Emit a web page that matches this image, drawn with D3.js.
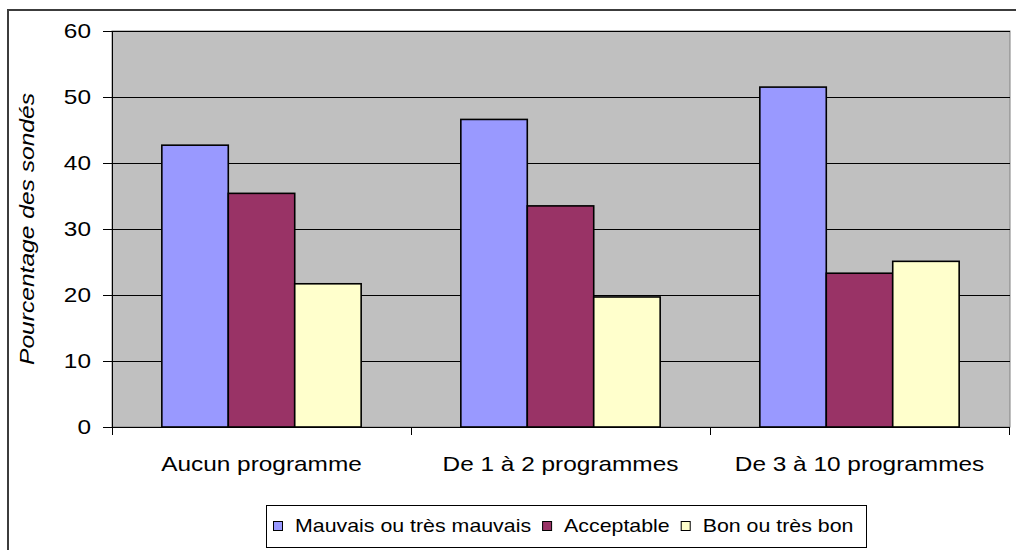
<!DOCTYPE html>
<html>
<head>
<meta charset="utf-8">
<script src="https://cdn.jsdelivr.net/npm/d3@7"></script>
<style>
  body { margin: 0; background: #fff; }
  svg text { font-family: "Liberation Sans", Arial, sans-serif; fill: #000; }
</style>
</head>
<body>
<svg width="1016" height="550"></svg>
<script>
const categories = ["Aucun programme", "De 1 à 2 programmes", "De 3 à 10 programmes"];
const seriesNames = ["Mauvais ou très mauvais", "Acceptable", "Bon ou très bon"];
const mauvais = [42.7, 46.6, 51.5];
const acceptable = [35.4, 33.5, 23.3];
const bon = [21.7, 19.7, 25.1];
const yTicks = [0, 10, 20, 30, 40, 50, 60];
const yTitle = "Pourcentage des sondés";

const seriesValues = [mauvais, acceptable, bon];
const colors = ["#9999FF", "#993366", "#FFFFCC"];

// horizontal stretch of the original picture's glyphs
const SX = 1.22;

const svg = d3.select("svg");
const plot = { left: 112, right: 1010, top: 31, bottom: 427 };

// outer chart frame
svg.append("rect")
  .attr("x", 8).attr("y", 10)
  .attr("width", 1100).attr("height", 700)
  .attr("fill", "#fff")
  .attr("stroke", "#3c3c3c")
  .attr("stroke-width", 2);

const x0 = d3.scaleBand()
  .domain(categories)
  .range([plot.left, plot.right - 1])
  .paddingInner(0).paddingOuter(0);

const x1 = d3.scaleBand()
  .domain(d3.range(seriesNames.length))
  .range([0, x0.bandwidth()])
  .paddingInner(0).paddingOuter(0.75);

const y = d3.scaleLinear().domain([0, 60]).range([plot.bottom, plot.top]);

// plot background
svg.append("rect")
  .attr("x", plot.left).attr("y", plot.top)
  .attr("width", plot.right - plot.left)
  .attr("height", plot.bottom - plot.top)
  .attr("fill", "#C0C0C0")
  .attr("stroke", "#808080")
  .attr("stroke-width", 1);

// gridlines
svg.append("g")
  .selectAll("line")
  .data(yTicks.filter((d) => d > 0))
  .enter()
  .append("line")
  .attr("x1", plot.left).attr("x2", plot.right)
  .attr("y1", (d) => Math.round(y(d)) + 0.5)
  .attr("y2", (d) => Math.round(y(d)) + 0.5)
  .attr("stroke", "#000")
  .attr("stroke-width", 1);

// bars
const rows = categories.map((c, i) => ({
  cat: c,
  vals: seriesValues.map((s, j) => ({ j: j, v: s[i] })),
}));

svg.append("g")
  .selectAll("g")
  .data(rows)
  .enter()
  .append("g")
  .attr("transform", (d) => "translate(" + x0(d.cat) + ",0)")
  .selectAll("rect")
  .data((d) => d.vals)
  .enter()
  .append("rect")
  .attr("x", (d) => x1(d.j))
  .attr("width", x1.bandwidth())
  .attr("y", (d) => y(d.v))
  .attr("height", (d) => y(0) - y(d.v))
  .attr("fill", (d) => colors[d.j])
  .attr("stroke", "#000")
  .attr("stroke-width", 1.6);

// axes lines and ticks
const axis = svg.append("g").attr("stroke", "#000").attr("stroke-width", 1);
axis.append("line")
  .attr("x1", plot.left + 0.5).attr("x2", plot.left + 0.5)
  .attr("y1", plot.top).attr("y2", plot.bottom + 8);
axis.append("line")
  .attr("x1", plot.left).attr("x2", plot.right)
  .attr("y1", plot.bottom + 0.5).attr("y2", plot.bottom + 0.5);
axis.selectAll(".yt")
  .data(yTicks)
  .enter()
  .append("line")
  .attr("x1", plot.left - 9).attr("x2", plot.left)
  .attr("y1", (d) => Math.round(y(d)) + 0.5)
  .attr("y2", (d) => Math.round(y(d)) + 0.5);
const bounds = categories.map((c) => x0(c)).concat([x0(categories[2]) + x0.bandwidth()]);
axis.selectAll(".xt")
  .data(bounds)
  .enter()
  .append("line")
  .attr("x1", (d) => Math.round(d) + 0.5).attr("x2", (d) => Math.round(d) + 0.5)
  .attr("y1", plot.bottom).attr("y2", plot.bottom + 8);

function stretchedText(parent, px, py, str, size, anchor) {
  const g = parent.append("g").attr("transform", "translate(" + px + "," + py + ")");
  return g.append("text")
    .attr("transform", "scale(" + SX + ",1)")
    .attr("text-anchor", anchor)
    .attr("font-size", size + "px")
    .text(str);
}

// y tick labels
yTicks.forEach((t) => {
  stretchedText(svg, 91, y(t) + 7, t, 20, "end");
});

// category labels
categories.forEach((c) => {
  stretchedText(svg, x0(c) + x0.bandwidth() / 2, 471, c, 20, "middle");
});

// y axis title
svg.append("g")
  .attr("transform", "translate(34,229) rotate(-90)")
  .append("text")
  .attr("text-anchor", "middle")
  .attr("font-size", "21px")
  .attr("font-style", "italic")
  .attr("textLength", 272)
  .attr("lengthAdjust", "spacingAndGlyphs")
  .text(yTitle);

// legend
const legend = svg.append("g");
legend.append("rect")
  .attr("x", 266.5).attr("y", 505.5)
  .attr("width", 600).attr("height", 42)
  .attr("fill", "#fff")
  .attr("stroke", "#000")
  .attr("stroke-width", 1);

let lx = 273;
seriesNames.forEach((name, i) => {
  legend.append("rect")
    .attr("x", lx + 0.5).attr("y", 521.5)
    .attr("width", 9).attr("height", 9)
    .attr("fill", colors[i])
    .attr("stroke", "#000")
    .attr("stroke-width", 1);
  const t = stretchedText(legend, lx + 22, 532, name, 17.5, "start");
  const w = t.node().getComputedTextLength() * SX;
  lx += 22 + w + 11;
});
</script>
</body>
</html>
